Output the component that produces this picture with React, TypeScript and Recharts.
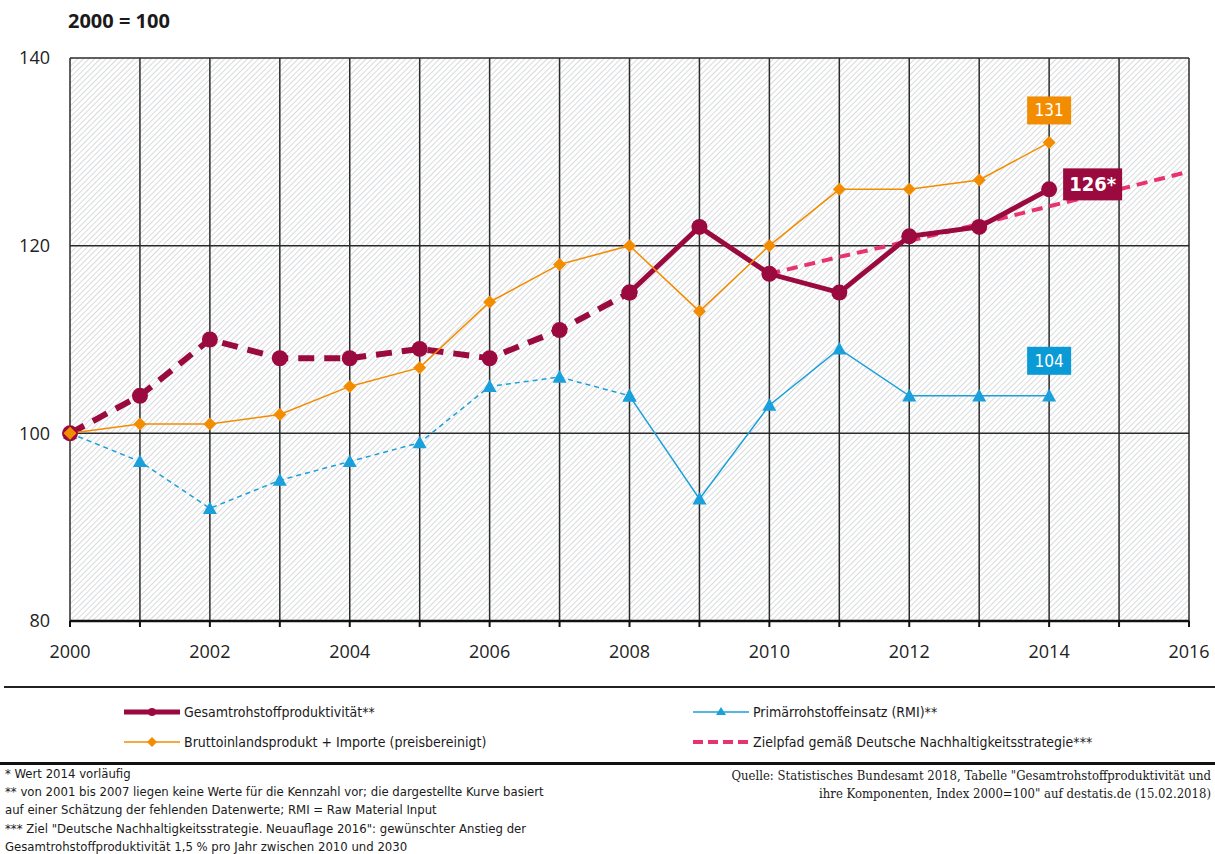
import { LineChart, Line, XAxis, YAxis, CartesianGrid } from "recharts"

const years = [2000, 2001, 2002, 2003, 2004, 2005, 2006, 2007, 2008, 2009, 2010, 2011, 2012, 2013, 2014]
const gesamtValues = [100, 104, 110, 108, 108, 109, 108, 111, 115, 122, 117, 115, 121, 122, 126]
const bipValues = [100, 101, 101, 102, 105, 107, 114, 118, 120, 113, 120, 126, 126, 127, 131]
const rmiValues = [100, 97, 92, 95, 97, 99, 105, 106, 104, 93, 103, 109, 104, 104, 104]
const zielYears = [2010, 2011, 2012, 2013, 2014, 2015, 2016]
const zielValues = [117, 118.8, 120.5, 122.3, 124.2, 126, 127.9]
const estimateUntil = 2008

const xTicks = [2000, 2001, 2002, 2003, 2004, 2005, 2006, 2007, 2008, 2009, 2010, 2011, 2012, 2013, 2014, 2015, 2016]
const yTicks = [80, 100, 120, 140]

const MAROON = "#9a0a3e"
const ORANGE = "#f28c00"
const BLUE = "#1aa0da"
const BLUE_BOX = "#0a9ad6"
const PINK = "#e8336f"

// one row per year, split series into estimated (dashed) and measured parts
const data = xTicks.map((year) => {
  const i = years.indexOf(year)
  const z = zielYears.indexOf(year)
  return {
    year,
    gesamtEst: i >= 0 && year <= estimateUntil ? gesamtValues[i] : null,
    gesamt: i >= 0 && year >= estimateUntil ? gesamtValues[i] : null,
    bip: i >= 0 ? bipValues[i] : null,
    rmiEst: i >= 0 && year <= estimateUntil ? rmiValues[i] : null,
    rmi: i >= 0 && year >= estimateUntil ? rmiValues[i] : null,
    ziel: z >= 0 ? zielValues[z] : null,
  }
})

const lastIndex = years.length - 1

const CircleDot = (props: any) => {
  const { cx, cy, value, index } = props
  if (value == null || cy == null) return <g key={index} />
  return <circle key={index} cx={cx} cy={cy} r={8} fill={MAROON} />
}

const DiamondDot = (props: any) => {
  const { cx, cy, value, index } = props
  if (value == null || cy == null) return <g key={index} />
  const s = 6.5
  return <path key={index} d={`M${cx},${cy - s} L${cx + s},${cy} L${cx},${cy + s} L${cx - s},${cy} Z`} fill={ORANGE} />
}

const TriangleDot = (props: any) => {
  const { cx, cy, value, index } = props
  if (value == null || cy == null) return <g key={index} />
  const s = 7
  return <path key={index} d={`M${cx},${cy - s} L${cx + s},${cy + s * 0.8} L${cx - s},${cy + s * 0.8} Z`} fill={BLUE} />
}

const boxLabel = (color: string, placement: "above" | "right", bold: boolean, gap = 18) => (props: any) => {
  const { x, y, value, index } = props
  if (index !== lastIndex || value == null) return null
  const text = placement === "right" ? `${value}*` : `${value}`
  const w = placement === "right" ? 59 : 44
  const h = placement === "right" ? 32 : 28
  const bx = placement === "right" ? x + 14 : x - w / 2
  const by = placement === "right" ? y - h / 2 - 5 : y - h - gap
  return (
    <g>
      <rect x={bx} y={by} width={w} height={h} fill={color} />
      <text
        x={bx + w / 2}
        y={by + h / 2 + 1}
        textAnchor="middle"
        dominantBaseline="middle"
        fill="#fff"
        fontSize={bold ? 20 : 17}
        fontWeight={bold ? 700 : 400}
      >
        {text}
      </text>
    </g>
  )
}

const sans = "'Liberation Sans Narrow', 'DejaVu Sans Condensed', 'Open Sans', sans-serif"
const serif = "'DejaVu Serif Condensed', 'Liberation Serif', serif"

function LegendSample({ kind }: { kind: string }) {
  return (
    <svg width={56} height={12} style={{ display: "block" }}>
      {kind === "gesamt" && (
        <>
          <line x1={0} y1={6} x2={56} y2={6} stroke={MAROON} strokeWidth={5} strokeLinecap="round" />
          <circle cx={28} cy={6} r={4} fill={MAROON} />
        </>
      )}
      {kind === "bip" && (
        <>
          <line x1={0} y1={6} x2={56} y2={6} stroke={ORANGE} strokeWidth={1.5} />
          <path d="M28,1 L33,6 L28,11 L23,6 Z" fill={ORANGE} />
        </>
      )}
      {kind === "rmi" && (
        <>
          <line x1={0} y1={6} x2={56} y2={6} stroke={BLUE} strokeWidth={1.5} />
          <path d="M28,1 L33,9 L23,9 Z" fill={BLUE} />
        </>
      )}
      {kind === "ziel" && (
        <line x1={0} y1={6} x2={56} y2={6} stroke={PINK} strokeWidth={4} strokeDasharray="10 5" />
      )}
    </svg>
  )
}

const legendItems = [
  { kind: "gesamt", label: "Gesamtrohstoffproduktivität**", left: 124, top: 704 },
  { kind: "rmi", label: "Primärrohstoffeinsatz (RMI)**", left: 693, top: 704 },
  { kind: "bip", label: "Bruttoinlandsprodukt + Importe (preisbereinigt)", left: 124, top: 734 },
  { kind: "ziel", label: "Zielpfad gemäß Deutsche Nachhaltigkeitsstrategie***", left: 693, top: 734 },
]

const footnotes = [
  "* Wert 2014 vorläufig",
  "** von 2001 bis 2007 liegen keine Werte für die Kennzahl vor; die dargestellte Kurve basiert",
  "auf einer Schätzung der fehlenden Datenwerte; RMI = Raw Material Input",
  "*** Ziel \"Deutsche Nachhaltigkeitsstrategie. Neuauflage 2016\": gewünschter Anstieg der",
  "Gesamtrohstoffproduktivität 1,5 % pro Jahr zwischen 2010 und 2030",
]

const sourceLines = [
  "Quelle: Statistisches Bundesamt 2018, Tabelle \"Gesamtrohstoffproduktivität und",
  "ihre Komponenten, Index 2000=100\" auf destatis.de (15.02.2018)",
]

export default function App() {
  return (
    <div
      style={{
        position: "absolute",
        left: 0,
        top: 0,
        width: 1215,
        height: 854,
        overflow: "hidden",
        background: "#fff",
        fontFamily: sans,
        color: "#1a1a1a",
      }}
    >
      <div style={{ position: "absolute", left: 68, top: 7, fontSize: 20, fontWeight: 700, fontFamily: "'Open Sans', sans-serif" }}>
        2000 = 100
      </div>

      <LineChart width={1215} height={680} data={data} margin={{ top: 58, right: 26, bottom: 0, left: 0 }}>
        <defs>
          <pattern id="hatch" patternUnits="userSpaceOnUse" width={4} height={4} patternTransform="rotate(45)">
            <rect width={4} height={4} fill="#fff" />
            <line x1={0} y1={0} x2={0} y2={4} stroke="#cbced1" strokeWidth={1.5} />
          </pattern>
        </defs>
        <CartesianGrid stroke="#2b2b2b" strokeWidth={1.5} fill="url(#hatch)" fillOpacity={1} />
        <XAxis
          dataKey="year"
          type="number"
          domain={[2000, 2016]}
          ticks={xTicks}
          interval={0}
          tickFormatter={(v: number) => (v % 2 === 0 ? String(v) : "")}
          axisLine={{ stroke: "#111", strokeWidth: 2.5 }}
          tickLine={{ stroke: "#111", strokeWidth: 2 }}
          tickSize={6}
          tickMargin={18}
          height={59}
          tick={{ fontSize: 18, fill: "#222", fontFamily: "'Open Sans', sans-serif" }}
        />
        <YAxis
          domain={[80, 140]}
          ticks={yTicks}
          axisLine={false}
          tickLine={false}
          tickMargin={14}
          width={70}
          tick={{ fontSize: 18, fill: "#222", fontFamily: "'Open Sans', sans-serif" }}
        />
        <Line dataKey="rmiEst" stroke={BLUE} strokeWidth={1.5} strokeDasharray="5 4" dot={TriangleDot} isAnimationActive={false} />
        <Line
          dataKey="rmi"
          stroke={BLUE}
          strokeWidth={1.5}
          dot={TriangleDot}
          label={boxLabel(BLUE_BOX, "above", false, 21)}
          isAnimationActive={false}
        />
        <Line dataKey="ziel" stroke={PINK} strokeWidth={4} strokeDasharray="11 7" dot={false} isAnimationActive={false} />
        <Line dataKey="gesamtEst" stroke={MAROON} strokeWidth={6} strokeDasharray="16 10" dot={CircleDot} isAnimationActive={false} />
        <Line
          dataKey="gesamt"
          stroke={MAROON}
          strokeWidth={5}
          dot={CircleDot}
          label={boxLabel(MAROON, "right", true)}
          isAnimationActive={false}
        />
        <Line
          dataKey="bip"
          stroke={ORANGE}
          strokeWidth={1.5}
          dot={DiamondDot}
          label={boxLabel(ORANGE, "above", false)}
          isAnimationActive={false}
        />
      </LineChart>

      <div style={{ position: "absolute", left: 4, top: 686, width: 1211, height: 1.5, background: "#222" }} />

      {legendItems.map((item) => (
        <div key={item.kind} style={{ position: "absolute", left: item.left, top: item.top, display: "flex", alignItems: "center", gap: 4, fontSize: 14, whiteSpace: "nowrap" }}>
          <LegendSample kind={item.kind} />
          <span>{item.label}</span>
        </div>
      ))}

      <div style={{ position: "absolute", left: 0, top: 762, width: 1215, height: 3, background: "#111" }} />

      {footnotes.map((line, i) => (
        <div key={i} style={{ position: "absolute", left: 5, top: 766 + i * 18.2, fontSize: 13, whiteSpace: "nowrap" }}>
          {line}
        </div>
      ))}

      {sourceLines.map((line, i) => (
        <div key={i} style={{ position: "absolute", right: 4, top: 768 + i * 18, fontSize: 13, whiteSpace: "nowrap", textAlign: "right", fontFamily: serif }}>
          {line}
        </div>
      ))}
    </div>
  )
}
